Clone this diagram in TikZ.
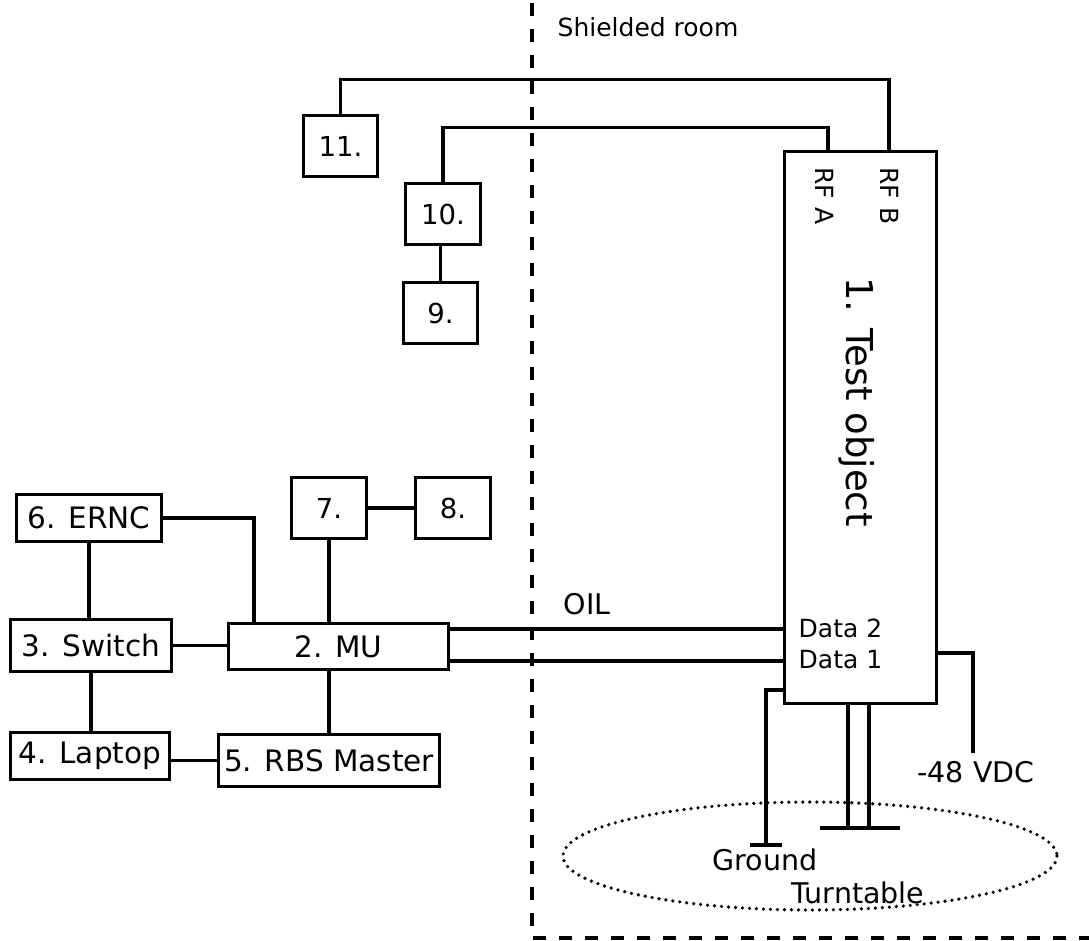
\documentclass[tikz,border=0pt]{standalone}
\usepackage{fontspec}
\setmainfont{DejaVu Sans}
\begin{document}
\begin{tikzpicture}[x=1pt,y=-1pt,line width=3.4pt,
  box/.style={draw,line width=3.4pt,inner sep=0pt,font=\fontsize{29.5}{30}\selectfont},
  numbox/.style={box,font=\fontsize{27.5}{28}\selectfont},
  lbl/.style={inner sep=0pt,font=\fontsize{28.5}{29}\selectfont},
  small/.style={inner sep=0pt,font=\fontsize{25}{26}\selectfont},
  wall/.style={line width=4pt,dash pattern=on 13pt off 13pt},
  dots/.style={line width=3.6pt,line cap=round,dash pattern=on 0pt off 7pt}]
\useasboundingbox (0,0) rectangle (1089,941);
% shielded room wall
\draw[wall] (532,3) -- (532,938) -- (1092,938);
\node[small] (shr) at (648,27) {Shielded room};
% boxes
\node[box,minimum width=152pt,minimum height=552pt] (b1) at (860.5,427.5) {};
\node[inner sep=0pt,rotate=-90,font=\fontsize{37}{38}\selectfont] (b1t) at (857,402) {1. Test object};
\node[small,rotate=-90] (rfat) at (825,196) {RF A};
\node[small,rotate=-90] (rfbt) at (890,196) {RF B};
\node[small,anchor=west] (d2t) at (797,628) {Data 2};
\node[small,anchor=west] (d1t) at (797,660) {Data 1};
\node[numbox,minimum width=74pt,minimum height=61pt] (b11) at (340.5,146) {11.};
\node[numbox,minimum width=75pt,minimum height=61pt] (b10) at (443,214) {10.};
\node[numbox,minimum width=74pt,minimum height=61pt] (b9) at (440.5,313) {9.};
\node[numbox,minimum width=75pt,minimum height=61pt] (b7) at (329,508) {7.};
\node[numbox,minimum width=75pt,minimum height=61pt] (b8) at (453,508) {8.};
\node[box,minimum width=145pt,minimum height=47pt] (b6) at (89,518) {6. ERNC};
\node[box,minimum width=161pt,minimum height=52pt] (b3) at (91,645.5) {3. Switch};
\node[box,minimum width=220pt,minimum height=46pt] (b2) at (338.5,646.5) {2. MU};
\node[box,minimum width=159pt,minimum height=47pt] (b4) at (90,756) {4. Laptop};
\node[box,minimum width=221pt,minimum height=52pt] (b5) at (329,760.5) {5. RBS Master};
% attachment points
\coordinate (rfa) at (828,151.5);
\coordinate (rfb) at (889,151.5);
\coordinate (d2) at (784.5,629);
\coordinate (d1) at (784.5,661);
\coordinate (gnd) at (784.5,690);
\coordinate (gb) at (766,845);
\coordinate (tl) at (848,703.5);
\coordinate (tr) at (869,703.5);
\coordinate (pw) at (936.5,653);
\coordinate (pwe) at (973,753);
\coordinate (mu7) at (254,623.5);
% RF cables
\draw (b11.north) -- ++(0,-34.5) -| (rfb);
\draw (b10.north) -- ++(0,-54.5) -| (rfa);
\draw (b9.north) -- (b9.north |- b10.south);
% left side
\draw (b7.east) -- (b8.west);
\draw (b7.south) -- (b7.south |- b2.north);
\draw (b6.east) -| (mu7);
\draw (b6.south) -- (b6.south |- b3.north);
\draw (b3.east) -- (b3.east -| b2.west);
\draw (b3.south) -- (b3.south |- b4.north);
\draw (b5.west) -- (b5.west -| b4.east);
\draw (b5.north) -- (b5.north |- b2.south);
% OIL
\draw (d2) -- (d2 -| b2.east);
\draw (d1) -- (d1 -| b2.east);
\node[lbl] (oil) at (587,604) {OIL};
% ground
\draw (gnd) -| (gb);
\draw ([xshift=-16pt]gb) -- ([xshift=16pt]gb);
\node[lbl] (gndt) at (765,860) {Ground};
% turntable legs
\draw (tl) -- (tl |- 0,828);
\draw (tr) -- (tr |- 0,828);
\draw (820,828) -- (900,828);
\draw[dots] (810,856) ellipse [x radius=247, y radius=54];
\node[lbl] (tt) at (858,893) {Turntable};
% power
\draw (pw) -| (pwe);
\node[lbl] (pwt) at (976,772) {-48 VDC};
\end{tikzpicture}
\end{document}
